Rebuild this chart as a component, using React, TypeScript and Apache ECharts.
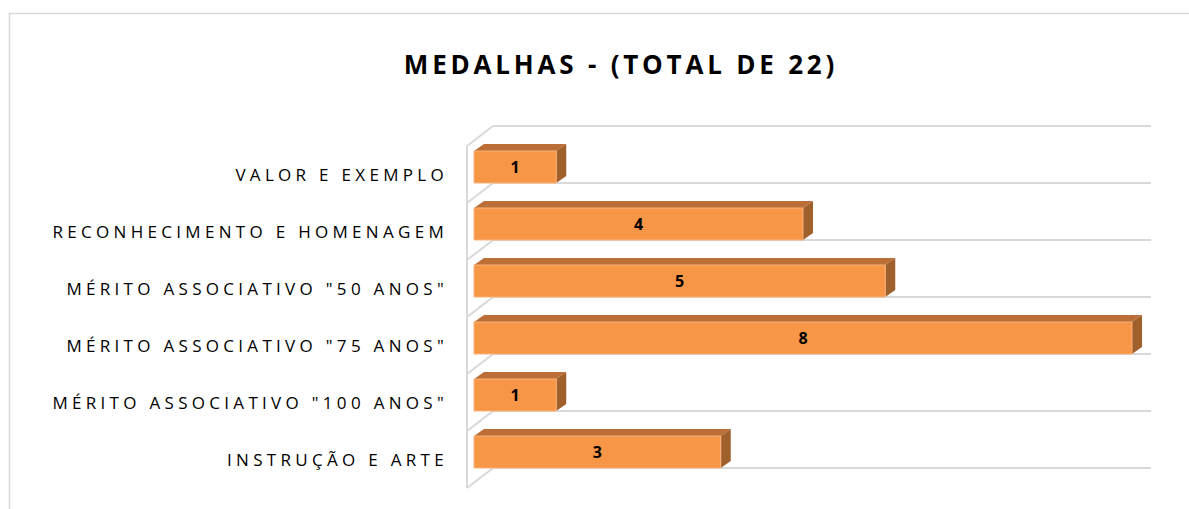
import React, { useEffect, useRef } from "react";
import * as echarts from "echarts";

const titleText = "MEDALHAS - (TOTAL DE 22)";
const categories = [
  "VALOR E EXEMPLO",
  "RECONHECIMENTO E HOMENAGEM",
  'MÉRITO ASSOCIATIVO "50 ANOS"',
  'MÉRITO ASSOCIATIVO "75 ANOS"',
  'MÉRITO ASSOCIATIVO "100 ANOS"',
  "INSTRUÇÃO E ARTE",
];
const values = [1, 4, 5, 8, 1, 3];
const axisMax = 8;

const FRONT = "#f79646";
const TOP = "#bb6f36";
const SIDE = "#a0602c";
const GRID = "#d9d9d9";

export default function App() {
  const ref = useRef<HTMLDivElement>(null);
  useEffect(() => {
    document.body.style.margin = "0";
    const chart = echarts.init(ref.current!, null, { renderer: "svg" });
    const BX = 26, BY = -20; // back wall offset
    const OX = 7; // bar front offset
    const DX = 10, DY = -7; // bar depth
    chart.setOption({
      animation: false,
      title: {
        text: titleText,
        left: 616,
        top: 46,
        textAlign: "center",
        textStyle: { fontFamily: "Open Sans", fontWeight: "bold", fontSize: 26, color: "#000" },
      },
      graphic: [
        {
          type: "rect",
          shape: { x: 9.5, y: 13.5, width: 1200, height: 520 },
          style: { fill: "none", stroke: GRID, lineWidth: 1.5 },
          silent: true,
        },
      ],
      grid: { left: 467, top: 146, width: 658, height: 342, containLabel: false },
      xAxis: {
        type: "value",
        min: 0,
        max: axisMax,
        axisLabel: { show: false },
        axisLine: { show: false },
        axisTick: { show: false },
        splitLine: { show: false },
      },
      yAxis: {
        type: "category",
        inverse: true,
        data: categories,
        axisLine: { show: false },
        axisTick: { show: false },
        splitLine: { show: false },
        axisLabel: {
          margin: 19,
          fontFamily: "Open Sans",
          fontSize: 17,
          color: "#000",
        },
      },
      series: [
        {
          type: "custom",
          name: "walls",
          z: 1,
          silent: true,
          data: categories.map((_, i) => [0, i]),
          renderItem: (params: any, api: any) => {
            const cs = params.coordSys;
            const idx = api.value(1);
            const band = cs.height / categories.length;
            const x0 = cs.x;
            const x1 = cs.x + cs.width;
            const children: any[] = [];
            const lineAt = (y: number) => {
              children.push({
                type: "line",
                shape: { x1: x0, y1: y, x2: x0 + BX, y2: y + BY },
                style: { stroke: GRID, lineWidth: 2 },
              });
              children.push({
                type: "line",
                shape: { x1: x0 + BX, y1: y + BY, x2: x1 + BX, y2: y + BY },
                style: { stroke: GRID, lineWidth: 2 },
              });
            };
            lineAt(cs.y + idx * band);
            if (idx === categories.length - 1) {
              lineAt(cs.y + (idx + 1) * band);
              children.push({
                type: "line",
                shape: { x1: x0, y1: cs.y, x2: x0, y2: cs.y + cs.height },
                style: { stroke: GRID, lineWidth: 2 },
              });
            }
            return { type: "group", children };
          },
        },
        {
          type: "custom",
          name: "Medalhas",
          z: 2,
          data: values.map((v, i) => [v, i]),
          renderItem: (params: any, api: any) => {
            const v = api.value(0);
            const idx = api.value(1);
            const p1 = api.coord([v, idx]);
            const p0 = api.coord([0, idx]);
            const xl = p0[0] + OX;
            const xr = p1[0] + OX;
            const top = p1[1] - 23.5;
            const bottom = p1[1] + 8.5;
            return {
              type: "group",
              children: [
                {
                  type: "polygon",
                  shape: { points: [[xl, top], [xl + DX, top + DY], [xr + DX, top + DY], [xr, top]] },
                  style: { fill: TOP },
                },
                {
                  type: "polygon",
                  shape: { points: [[xr, top], [xr + DX, top + DY], [xr + DX, bottom + DY], [xr, bottom]] },
                  style: { fill: SIDE },
                },
                {
                  type: "rect",
                  shape: { x: xl, y: top, width: xr - xl, height: bottom - top },
                  style: { fill: FRONT, stroke: "#f9b27c", lineWidth: 1 },
                },
                {
                  type: "text",
                  style: {
                    text: String(v),
                    x: (xl + xr) / 2,
                    y: (top + bottom) / 2,
                    align: "center",
                    verticalAlign: "middle",
                    font: 'bold 16px "Open Sans"',
                    fill: "#000",
                  },
                },
              ],
            };
          },
        },
      ],
    });
    return () => chart.dispose();
  }, []);
  return (
    <>
      <style>{`
        #chartbox text[style*="17px"] { letter-spacing: 4.3px; }
        #chartbox text[style*="26px"] { letter-spacing: 3.8px; }
      `}</style>
      <div id="chartbox" ref={ref} style={{ width: 1189, height: 509 }} />
    </>
  );
}
